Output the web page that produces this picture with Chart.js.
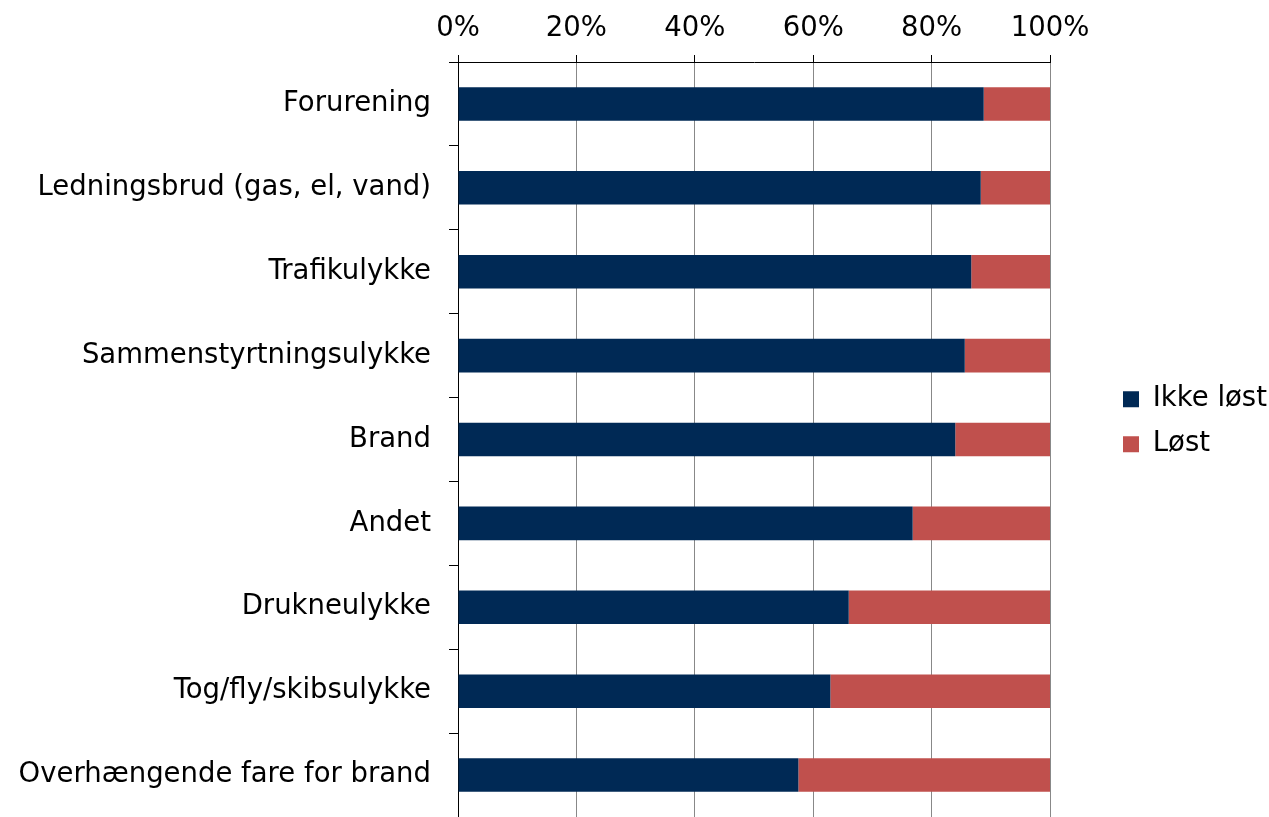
<!DOCTYPE html>
<html lang="da">
<head>
  <meta charset="UTF-8">
  <title>Løst / ikke løst</title>
  <script src="https://cdn.jsdelivr.net/npm/chart.js"></script>
  <style>
    body { margin: 0; background: #fff; }
    #wrap { width: 1269px; height: 817px; }
  </style>
</head>
<body>
  <div id="wrap"><canvas id="chart"></canvas></div>
  <script>
    // Data (percent)
    const categories = [
      'Forurening',
      'Ledningsbrud (gas, el, vand)',
      'Trafikulykke',
      'Sammenstyrtningsulykke',
      'Brand',
      'Andet',
      'Drukneulykke',
      'Tog/fly/skibsulykke',
      'Overhængende fare for brand'
    ];
    const ikkeLoest = [88.8, 88.3, 86.7, 85.6, 84.0, 76.8, 66.0, 62.9, 57.5];
    const loest = [11.2, 11.7, 13.3, 14.4, 16.0, 23.2, 34.0, 37.1, 42.5];
    const xTicks = [0, 20, 40, 60, 80, 100];

    const font = { family: 'Verdana, "DejaVu Sans", sans-serif', size: 27.5 };

    // put the legend where the original has it (fixed width, nudged down a bit)
    const legendSpot = {
      id: 'legendSpot',
      beforeLayout(chart) {
        const lg = chart.legend;
        if (lg && !lg._wrapped) {
          const fit = lg.fit;
          lg.fit = function () { fit.call(this); this.width = 217; };
          lg._wrapped = true;
        }
      },
      afterLayout(chart) {
        const lg = chart.legend;
        const pad = lg.options.labels.padding;
        lg.left = 1123 - pad;
        lg.right = lg.left + lg.width;
        lg.top += 12;
        lg.bottom += 12;
      }
    };

    new Chart(document.getElementById('chart'), {
      type: 'bar',
      data: {
        labels: categories,
        datasets: [
          { label: 'Ikke løst', data: ikkeLoest, backgroundColor: '#002955', barPercentage: 0.8, categoryPercentage: 0.5 },
          { label: 'Løst', data: loest, backgroundColor: '#C0504D', barPercentage: 0.8, categoryPercentage: 0.5 }
        ]
      },
      plugins: [legendSpot],
      options: {
        indexAxis: 'y',
        responsive: true,
        maintainAspectRatio: false,
        animation: false,
        layout: { padding: { top: 2.5, right: 2, bottom: 0, left: 6 } },
        plugins: {
          tooltip: { enabled: false },
          legend: {
            position: 'right',
            labels: {
              color: '#000',
              font: font,
              boxWidth: 16,
              boxHeight: 16,
              padding: 17.5
            }
          }
        },
        scales: {
          x: {
            position: 'top',
            stacked: true,
            min: 0,
            max: 100,
            afterBuildTicks: axis => { axis.ticks = xTicks.map(v => ({ value: v })); },
            afterFit: axis => { axis.paddingLeft = 0; axis.paddingRight = 0; },
            ticks: {
              color: '#000',
              font: { family: font.family, size: font.size, lineHeight: 1 },
              padding: 12.5,
              maxRotation: 0,
              callback: v => v + '%'
            },
            grid: { color: '#888', lineWidth: 1, tickLength: 7, tickColor: '#000' },
            border: { color: '#000', width: 1 }
          },
          y: {
            stacked: true,
            afterFit: axis => { axis.width = 452; axis.paddingTop = 0; axis.paddingBottom = 0; },
            ticks: { color: '#000', font: font, padding: 18 },
            grid: { drawOnChartArea: false, tickLength: 9, color: '#000', offset: true },
            border: { color: '#000', width: 1 }
          }
        }
      }
    });
  </script>
</body>
</html>
